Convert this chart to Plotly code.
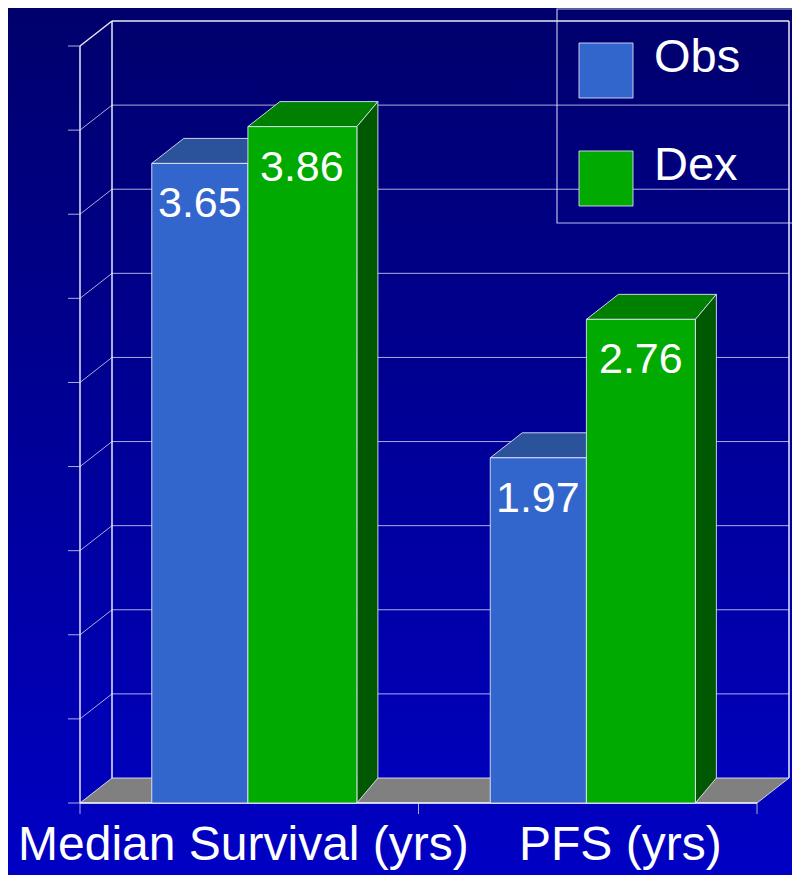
import numpy as np
import plotly.graph_objects as go

# data
categories = ["Median Survival (yrs)", "PFS (yrs)"]
series_names = ["Obs", "Dex"]
obs_values = [3.65, 1.97]
dex_values = [3.86, 2.76]

Y_MAX = 4.32
N_GRID = 9

FRONT = ["#3366CC", "#00AA00"]
TOP = ["#2A539C", "#008000"]
SIDE = ["#1F3F80", "#005800"]
EDGE = "rgba(235,235,255,0.85)"
GRID = "rgba(215,215,245,0.8)"
FLOOR = "#808080"
FONT = "Arial, Liberation Sans, sans-serif"

# the page body adds an 8px margin, so the figure is a bit smaller
OFF = 8
W, H = 800 - OFF, 875 - OFF


def px(v):
    return v - OFF


# pixel frame of the front plane, used to set up the axes
left_px, right_px, base_px, top_px = px(80), px(757), px(803), px(46)
ux = (right_px - left_px) / len(categories)
uy = (base_px - top_px) / Y_MAX
x_range = [-0.5 - left_px / ux, len(categories) - 0.5 + (W - right_px) / ux]
y_range = [-(H - base_px) / uy, Y_MAX + top_px / uy]

DX, DY = 32 / ux, 25 / uy      # wall depth
DXB = 21 / ux                  # bar side depth
OFFSETS = [-0.288, -0.004]     # bar start inside a category
WIDTHS = [0.284, 0.322]

fig = go.Figure()


def poly(xs, ys, fill, line=EDGE, width=1):
    fig.add_trace(go.Scatter(
        x=list(xs) + [xs[0]], y=list(ys) + [ys[0]], mode="lines",
        fill="toself", fillcolor=fill, line=dict(color=line, width=width),
        hoverinfo="skip", showlegend=False))


def segments(pairs, color, width=1):
    xs, ys = [], []
    for (xa, ya), (xb, yb) in pairs:
        xs += [xa, xb, None]
        ys += [ya, yb, None]
    fig.add_trace(go.Scatter(x=xs, y=ys, mode="lines",
                             line=dict(color=color, width=width),
                             hoverinfo="skip", showlegend=False))


# background gradient
fig.add_trace(go.Scatter(
    x=[x_range[0], x_range[1], x_range[1], x_range[0], x_range[0]],
    y=[y_range[0], y_range[0], y_range[1], y_range[1], y_range[0]],
    mode="none", fill="toself",
    fillgradient=dict(type="vertical", colorscale=[[0, "#0000C4"], [1, "#00006C"]]),
    hoverinfo="skip", showlegend=False))

levels = np.linspace(0, Y_MAX, N_GRID + 1)
xl, xr = -0.5, len(categories) - 0.5

# back wall and side wall
segments([((xl + DX, v + DY), (xr + DX, v + DY)) for v in levels[1:-1]], GRID)
segments([((xl, v), (xl + DX, v + DY)) for v in levels[1:-1]], GRID)
segments([((xl + DX, DY), (xl + DX, Y_MAX + DY)),
          ((xr + DX, DY), (xr + DX, Y_MAX + DY)),
          ((xl + DX, Y_MAX + DY), (xr + DX, Y_MAX + DY)),
          ((xl, Y_MAX), (xl + DX, Y_MAX + DY))], "rgba(245,245,255,0.95)", 1.5)

# floor
poly([xl, xr, xr + DX, xl + DX], [0, 0, DY, DY], FLOOR)

# front axes and ticks
segments([((xl, 0), (xl, Y_MAX)), ((xl, 0), (xr, 0))], "rgba(240,240,255,0.95)", 1.5)
segments([((xl - 12 / ux, v), (xl, v)) for v in levels], GRID)
segments([((xl + k, 0), (xl + k, -11 / uy)) for k in range(len(categories) + 1)], GRID)

# 3d columns
annotations = []
for i in range(len(categories)):
    for s, vals in enumerate([obs_values, dex_values]):
        v = vals[i]
        x0 = i + OFFSETS[s]
        x1 = x0 + WIDTHS[s]
        poly([x0, x0 + DX, x1 + DXB, x1], [v, v + DY, v + DY, v], TOP[s])
        poly([x1, x1, x1 + DXB, x1 + DXB], [0, v, v + DY, DY], SIDE[s])
        poly([x0, x0, x1, x1], [0, v, v, 0], FRONT[s])
        annotations.append(dict(
            x=(x0 + x1) / 2, y=v, xref="x", yref="y", text=f"{v:.2f}",
            showarrow=False, xanchor="center", yanchor="top", yshift=-13,
            font=dict(family=FONT, size=43, color="white")))

# category labels
for i, (cat, shift) in enumerate(zip(categories, [-6, 33])):
    annotations.append(dict(
        x=i, y=0, xref="x", yref="y", text=cat, showarrow=False,
        xanchor="center", yanchor="top", yshift=-12, xshift=shift,
        font=dict(family=FONT, size=48, color="white")))

# legend drawn by hand
shapes = [dict(type="rect", xref="paper", yref="paper",
               x0=px(557) / W, x1=px(806) / W, y0=1 - px(223) / H, y1=1 - px(9) / H,
               line=dict(color="rgba(220,220,245,0.85)", width=1.2))]
for s, name in enumerate(series_names):
    top_y = px(43 + s * 108)
    shapes.append(dict(type="rect", xref="paper", yref="paper",
                       x0=px(579) / W, x1=px(633) / W, y0=1 - (top_y + 55) / H, y1=1 - top_y / H,
                       fillcolor=FRONT[s], line=dict(color="rgba(220,220,245,0.9)", width=1)))
    annotations.append(dict(
        x=px(652) / W, y=1 - (top_y + 13) / H, xref="paper", yref="paper", text=name,
        showarrow=False, xanchor="left", yanchor="middle",
        font=dict(family=FONT, size=47, color="white")))

fig.update_layout(
    width=W, height=H,
    margin=dict(l=0, r=0, t=0, b=0),
    paper_bgcolor="#000090", plot_bgcolor="#000090",
    xaxis=dict(range=x_range, visible=False, fixedrange=True),
    yaxis=dict(range=y_range, visible=False, fixedrange=True),
    annotations=annotations, shapes=shapes,
    showlegend=False,
)

fig.write_html("out.html")
